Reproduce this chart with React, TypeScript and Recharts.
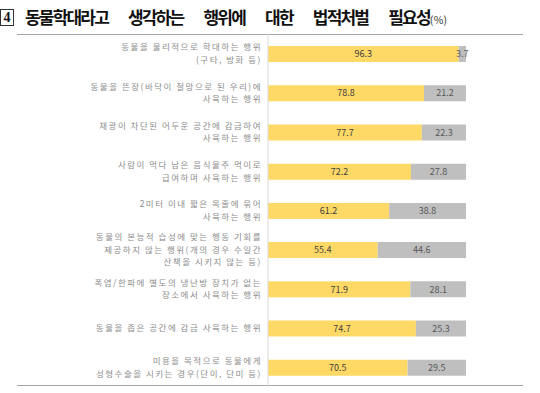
import React from 'react';
import { BarChart, Bar, XAxis, YAxis, LabelList } from 'recharts';

const categories: string[] = [
  '동물을 물리적으로 학대하는 행위\n(구타, 방화 등)',
  '동물을 뜬장(바닥이 철망으로 된 우리)에\n사육하는 행위',
  '채광이 차단된 어두운 공간에 감금하여\n사육하는 행위',
  '사람이 먹다 남은 음식물주 먹이로\n급여하며 사육하는 행위',
  '2미터 이내 짧은 목줄에 묶어\n사육하는 행위',
  '동물의 본능적 습성에 맞는 행동 기회를\n제공하지 않는 행위(개의 경우 수일간\n산책을 시키지 않는 등)',
  '폭염/한파에 별도의 냉난방 장치가 없는\n장소에서 사육하는 행위',
  '동물을 좁은 공간에 감금 사육하는 행위',
  '미용을 목적으로 동물에게\n성형수술을 시키는 경우(단이, 단미 등)',
];
const needed: number[] = [96.3, 78.8, 77.7, 72.2, 61.2, 55.4, 71.9, 74.7, 70.5];
const notNeeded: number[] = [3.7, 21.2, 22.3, 27.8, 38.8, 44.6, 28.1, 25.3, 29.5];

const titleNumber = '4';
const titleText = '동물학대라고 생각하는 행위에 대한 법적처벌 필요성';
const titleUnit = '(%)';

const data = categories.map((name, i) => ({ name, yes: needed[i], no: notNeeded[i] }));

const FONT = '"Noto Sans CJK KR", "Noto Sans", sans-serif';

const CategoryTick = (props: any) => {
  const { x, y, payload } = props;
  const lines: string[] = String(payload.value).split('\n');
  const lh = 12.5;
  const start = y - ((lines.length - 1) * lh) / 2;
  return (
    <g>
      {lines.map((l, i) => (
        <text
          key={i}
          x={x}
          y={start + i * lh}
          dy="0.35em"
          textAnchor="end"
          fill="#8c8c8c"
          fontSize={8.5}
          letterSpacing={1.5}
          fontFamily={FONT}
        >
          {l}
        </text>
      ))}
    </g>
  );
};

export default function App() {
  return (
    <div style={{ position: 'absolute', left: 0, top: 0, width: 540, height: 393, background: '#fff', fontFamily: FONT }}>
      <div style={{ position: 'absolute', left: 0, top: 9, width: 12, height: 15, border: '1px solid #333', fontSize: 14, fontWeight: 700, lineHeight: '15px', textAlign: 'center', color: '#111', fontFamily: '"Liberation Serif", serif' }}>
        {titleNumber}
      </div>
      <div style={{ position: 'absolute', left: 25, top: 4, fontSize: 17, fontWeight: 700, letterSpacing: -1.8, wordSpacing: 18, color: '#111', whiteSpace: 'nowrap', lineHeight: '26px' }}>
        {titleText}
        <span style={{ fontSize: 10.5, fontWeight: 400, letterSpacing: 0.3, color: '#333' }}>{titleUnit}</span>
      </div>
      <div style={{ position: 'absolute', left: 17, top: 34, width: 506, height: 1, background: '#a6a6a6' }} />
      <div style={{ position: 'absolute', left: 17, top: 385, width: 506, height: 1, background: '#a6a6a6' }} />
      <div style={{ position: 'absolute', left: 0, top: 0 }}>
        <BarChart
          width={540}
          height={393}
          data={data}
          layout="vertical"
          margin={{ top: 34, right: 74, bottom: 6, left: 0 }}
          barSize={16}
        >
          <XAxis type="number" domain={[0, 100]} hide />
          <YAxis
            type="category"
            dataKey="name"
            width={268}
            tickSize={0}
            tickMargin={6}
            tickLine={false}
            axisLine={{ stroke: '#d9d9d9' }}
            tick={<CategoryTick />}
            interval={0}
          />
          <Bar dataKey="yes" stackId="a" fill="#FFD966" isAnimationActive={false}>
            <LabelList dataKey="yes" position="center" fill="#404040" fontSize={9} fontFamily={FONT} />
          </Bar>
          <Bar dataKey="no" stackId="a" fill="#BFBFBF" isAnimationActive={false}>
            <LabelList dataKey="no" position="center" fill="#595959" fontSize={9} fontFamily={FONT} />
          </Bar>
        </BarChart>
      </div>
    </div>
  );
}
